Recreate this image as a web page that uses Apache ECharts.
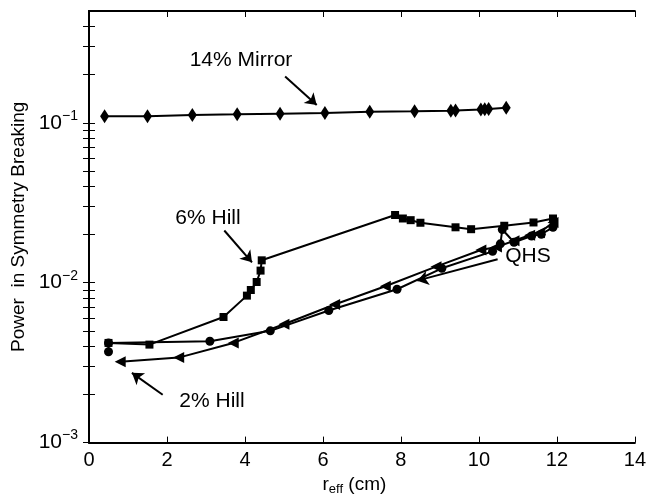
<!DOCTYPE html>
<html>
<head>
<meta charset="utf-8">
<script src="https://cdn.jsdelivr.net/npm/echarts@6/dist/echarts.min.js"></script>
<style>
  html, body { margin: 0; padding: 0; background: #fff; }
  #chart { width: 649px; height: 501px; }
</style>
</head>
<body>
<div id="chart"></div>
<script>
// 14% Mirror (diamonds)
const mirrorX = [0.4, 1.5, 2.65, 3.8, 4.9, 6.05, 7.2, 8.35, 9.28, 9.4, 10.05, 10.15, 10.25, 10.7];
const mirrorY = [0.110, 0.110, 0.112, 0.113, 0.114, 0.115, 0.117, 0.118, 0.119, 0.1195, 0.121, 0.1215, 0.122, 0.124];

// 6% Hill (squares)
const hill6X = [0.5, 1.55, 3.45, 4.05, 4.15, 4.3, 4.4, 4.43, 7.85, 8.05, 8.25, 8.5, 9.4, 9.8, 10.65, 11.4, 11.9];
const hill6Y = [0.0042, 0.0041, 0.0061, 0.0083, 0.009, 0.0101, 0.0119, 0.0138, 0.0265, 0.0252, 0.0246, 0.0237, 0.0222, 0.0216, 0.0227, 0.0238, 0.0252];

// QHS (circles)
const qhsX = [0.5, 0.5, 3.1, 4.65, 6.15, 7.9, 9.05, 10.35, 10.55, 10.6, 10.9, 11.35, 11.6, 11.9];
const qhsY = [0.0037, 0.0042, 0.0043, 0.005, 0.0067, 0.0091, 0.0123, 0.0157, 0.0175, 0.0215, 0.0179, 0.0196, 0.0201, 0.0222];

// 2% Hill (left-pointing triangles)
const hill2X = [11.9, 11.55, 11.3, 10.9, 10.45, 10.05, 8.9, 7.6, 6.3, 5.0, 3.7, 2.3, 0.8];
const hill2Y = [0.0238, 0.0205, 0.0198, 0.0183, 0.0167, 0.016, 0.0126, 0.0095, 0.0073, 0.0055, 0.0042, 0.0034, 0.0032];

// axes
const xMin = 0, xMax = 14, xStep = 2;
const yMin = 0.001, yMax = 0.5;
const yMajor = [0.001, 0.01, 0.1];
const yTicks = [0.001, 0.002, 0.003, 0.004, 0.005, 0.006, 0.007, 0.008, 0.009,
                0.01, 0.02, 0.03, 0.04, 0.05, 0.06, 0.07, 0.08, 0.09,
                0.1, 0.2, 0.3, 0.4];

// annotation arrows [from, to] in data units
const arrows = [
    [[5.03, 0.195], [5.84, 0.129]],   // 14% Mirror
    [[3.47, 0.0212], [4.18, 0.0134]], // 6% Hill
    [[1.89, 0.00199], [1.10, 0.00273]], // 2% Hill
    [[10.48, 0.0140], [8.42, 0.0103]]   // QHS
];

const FONT = 'Liberation Sans, Arial, sans-serif';
const zip = (xs, ys) => xs.map((x, i) => [x, ys[i]]);

const chart = echarts.init(document.getElementById('chart'));

const lineBase = {
    type: 'line',
    xAxisIndex: 0,
    yAxisIndex: 0,
    lineStyle: { color: '#000', width: 2 },
    itemStyle: { color: '#000' },
    showSymbol: true,
    animation: false,
    silent: true
};

const axisCommon = {
    axisLine: { show: true, lineStyle: { color: '#000', width: 2 } },
    splitLine: { show: false }
};

chart.setOption({
    backgroundColor: '#fff',
    grid: { left: 89, right: 11, top: 11, bottom: 58 },
    xAxis: [
        {
            ...axisCommon,
            type: 'value', min: xMin, max: xMax, interval: xStep,
            position: 'bottom',
            axisTick: { inside: true, length: 6, lineStyle: { color: '#000', width: 1 } },
            axisLabel: { color: '#000', fontFamily: FONT, fontSize: 20, margin: 8 },
            name: '{m|r}{sub|eff}{m| (cm)}',
            nameLocation: 'middle',
            nameGap: 22,
            nameTextStyle: {
                padding: [0, 15, 0, 0],
                rich: {
                    m: { fontFamily: FONT, fontSize: 19, color: '#000', lineHeight: 22 },
                    sub: { fontFamily: FONT, fontSize: 13, color: '#000', verticalAlign: 'bottom', lineHeight: 13 }
                }
            }
        },
        {
            ...axisCommon,
            type: 'value', min: xMin, max: xMax, interval: xStep,
            position: 'top',
            axisTick: { inside: true, length: 6, lineStyle: { color: '#000', width: 1 } },
            axisLabel: { show: false }
        }
    ],
    yAxis: [
        {
            ...axisCommon,
            type: 'log', logBase: 10, min: yMin, max: yMax,
            position: 'left',
            axisTick: { inside: true, length: 6, customValues: yTicks, lineStyle: { color: '#000', width: 1 } },
            axisLabel: {
                customValues: yMajor,
                margin: 11,
                formatter: v => '{b|10}{s|\u2212' + Math.round(-Math.log10(v)) + '}',
                rich: {
                    b: { fontFamily: FONT, fontSize: 21, color: '#000', lineHeight: 28 },
                    s: { fontFamily: FONT, fontSize: 14, color: '#000', verticalAlign: 'top', lineHeight: 14 }
                }
            },
            name: 'Power  in Symmetry Breaking',
            nameLocation: 'middle',
            nameGap: 58,
            nameTextStyle: { fontFamily: FONT, fontSize: 19, color: '#000' }
        },
        {
            ...axisCommon,
            type: 'log', logBase: 10, min: yMin, max: yMax,
            position: 'right',
            axisTick: { inside: true, length: 6, customValues: yTicks, lineStyle: { color: '#000', width: 1 } },
            axisLabel: { show: false }
        }
    ],
    series: [
        { ...lineBase, name: '14% Mirror', data: zip(mirrorX, mirrorY), symbol: 'diamond', symbolSize: [9, 14] },
        { ...lineBase, name: '6% Hill', data: zip(hill6X, hill6Y), symbol: 'rect', symbolSize: 8 },
        { ...lineBase, name: 'QHS', data: zip(qhsX, qhsY), symbol: 'circle', symbolSize: 9 },
        { ...lineBase, name: '2% Hill', data: zip(hill2X, hill2Y), symbol: 'triangle', symbolRotate: 90, symbolSize: 11 },
        {
            ...lineBase,
            name: 'arrows',
            data: [],
            markLine: {
                silent: true,
                animation: false,
                symbol: ['none', 'arrow'],
                symbolSize: 11,
                label: { show: false },
                lineStyle: { color: '#000', width: 2, type: 'solid' },
                data: arrows.map(a => [{ coord: a[0] }, { coord: a[1] }])
            }
        }
    ],
    graphic: [
        { type: 'text', x: 241, y: 60, style: { text: '14% Mirror', align: 'center', verticalAlign: 'middle', fontFamily: FONT, fontSize: 21, fill: '#000' } },
        { type: 'text', x: 208, y: 218, style: { text: '6% Hill', align: 'center', verticalAlign: 'middle', fontFamily: FONT, fontSize: 21, fill: '#000' } },
        { type: 'text', x: 212, y: 401, style: { text: '2% Hill', align: 'center', verticalAlign: 'middle', fontFamily: FONT, fontSize: 21, fill: '#000' } },
        { type: 'text', x: 528, y: 256, style: { text: 'QHS', align: 'center', verticalAlign: 'middle', fontFamily: FONT, fontSize: 21, fill: '#000' } }
    ]
});
</script>
</body>
</html>
